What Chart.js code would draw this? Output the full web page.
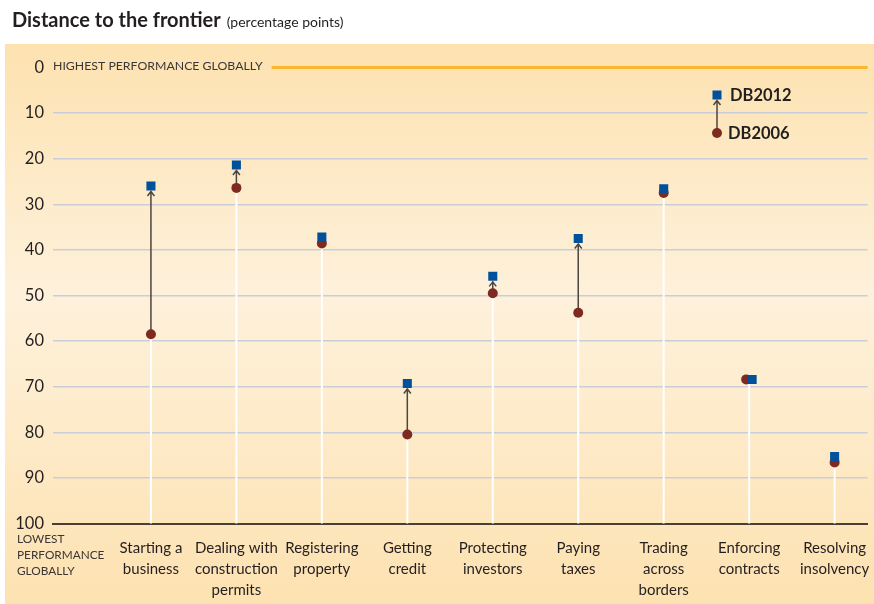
<!DOCTYPE html>
<html>
<head>
<meta charset="utf-8">
<script src="https://cdn.jsdelivr.net/npm/chart.js@4.4.1/dist/chart.umd.min.js"></script>
<style>
  body { margin: 0; background: #fff; }
  #wrap { width: 874px; height: 604px; position: relative; }
</style>
</head>
<body>
<div id="wrap"><canvas id="chart"></canvas></div>
<script>
// categories (multi-line labels) and the two survey years
const categories = [
  ['Starting a', 'business'],
  ['Dealing with', 'construction', 'permits'],
  ['Registering', 'property'],
  ['Getting', 'credit'],
  ['Protecting', 'investors'],
  ['Paying', 'taxes'],
  ['Trading', 'across', 'borders'],
  ['Enforcing', 'contracts'],
  ['Resolving', 'insolvency']
];
const db2012 = [26.0, 21.4, 37.2, 69.3, 45.8, 37.5, 26.6, 68.4, 85.3];
const db2006 = [58.5, 26.4, 38.6, 80.5, 49.5, 53.8, 27.5, 68.4, 86.6];
const yTicks = [0, 10, 20, 30, 40, 50, 60, 70, 80, 90, 100];

const FONT = 'Lato, "Liberation Sans", sans-serif';
const SQUARE = '#00509b';
const CIRCLE = '#7e2a20';

// nudge the two marks apart when they sit on the same value
function xPos(i, dir) {
  return Math.abs(db2012[i] - db2006[i]) < 0.5 ? i + 1 + dir * 0.035 : i + 1;
}

const decor = {
  id: 'decor',
  beforeDraw(chart) {
    const { ctx } = chart;
    ctx.save();
    ctx.fillStyle = '#fff';
    ctx.fillRect(0, 0, chart.width, chart.height);
    const g = ctx.createLinearGradient(0, 44, 0, chart.height);
    g.addColorStop(0, '#fde2b0');
    g.addColorStop(0.45, '#fef1db');
    g.addColorStop(1, '#fde2b1');
    ctx.fillStyle = g;
    ctx.fillRect(5, 44, chart.width - 5, chart.height - 44);

    ctx.fillStyle = '#231f20';
    ctx.textBaseline = 'alphabetic';
    ctx.font = 'bold 20px ' + FONT;
    ctx.fillText('Distance to the frontier', 12, 27);
    const w = ctx.measureText('Distance to the frontier').width;
    ctx.font = '14px ' + FONT;
    ctx.fillText('(percentage points)', 12 + w + 6, 27);
    ctx.restore();
  },
  beforeDatasetsDraw(chart) {
    const { ctx, chartArea } = chart;
    const x = chart.scales.x, y = chart.scales.y;
    ctx.save();
    // white drop lines from the lower mark to the axis
    ctx.strokeStyle = '#ffffff';
    ctx.lineWidth = 2;
    categories.forEach((c, i) => {
      const px = x.getPixelForValue(i + 1);
      const top = y.getPixelForValue(Math.max(db2012[i], db2006[i]));
      ctx.beginPath();
      ctx.moveTo(px, top);
      ctx.lineTo(px, y.getPixelForValue(100));
      ctx.stroke();
    });
    // arrows from DB2006 to DB2012
    ctx.strokeStyle = '#4d4542';
    ctx.lineWidth = 1.5;
    categories.forEach((c, i) => {
      const px = x.getPixelForValue(i + 1);
      const y0 = y.getPixelForValue(db2006[i]);
      const y1 = y.getPixelForValue(db2012[i]) + 5;
      if (y0 - y1 < 6) return;
      ctx.beginPath();
      ctx.moveTo(px, y0);
      ctx.lineTo(px, y1);
      ctx.moveTo(px - 3.5, y1 + 5);
      ctx.lineTo(px, y1 + 0.5);
      ctx.lineTo(px + 3.5, y1 + 5);
      ctx.stroke();
    });
    // top reference line
    const y0 = y.getPixelForValue(0);
    ctx.font = '12.3px ' + FONT;
    ctx.fillStyle = '#3a3636';
    ctx.textBaseline = 'middle';
    ctx.fillText('HIGHEST PERFORMANCE GLOBALLY', 53, y0 - 1);
    const tw = ctx.measureText('HIGHEST PERFORMANCE GLOBALLY').width;
    ctx.strokeStyle = '#fbb62e';
    ctx.lineWidth = 3;
    ctx.beginPath();
    ctx.moveTo(53 + tw + 9, y0);
    ctx.lineTo(chartArea.right, y0);
    ctx.stroke();
    // bottom note
    ctx.font = '11.8px ' + FONT;
    ctx.textBaseline = 'middle';
    ['LOWEST', 'PERFORMANCE', 'GLOBALLY'].forEach((t, k) => {
      ctx.fillText(t, 17, 539 + k * 16);
    });
    ctx.restore();
  },
  afterDraw(chart) {
    const { ctx } = chart;
    ctx.save();
    // legend
    const lx = 717, sy = 95, cy = 133;
    ctx.strokeStyle = '#4d4542';
    ctx.lineWidth = 1.5;
    ctx.beginPath();
    ctx.moveTo(lx, cy);
    ctx.lineTo(lx, sy + 5);
    ctx.moveTo(lx - 3.5, sy + 10);
    ctx.lineTo(lx, sy + 5.5);
    ctx.lineTo(lx + 3.5, sy + 10);
    ctx.stroke();
    ctx.fillStyle = SQUARE;
    ctx.fillRect(lx - 4.5, sy - 4.5, 9, 9);
    ctx.fillStyle = CIRCLE;
    ctx.beginPath();
    ctx.arc(lx, cy, 5, 0, Math.PI * 2);
    ctx.fill();
    ctx.fillStyle = '#231f20';
    ctx.font = 'bold 16.5px ' + FONT;
    ctx.textBaseline = 'middle';
    ctx.fillText('DB2012', 730, sy + 1);
    ctx.fillText('DB2006', 728, cy + 1);
    ctx.restore();
  }
};

new Chart(document.getElementById('chart'), {
  type: 'scatter',
  data: {
    datasets: [
      {
        label: 'DB2012',
        data: db2012.map((v, i) => ({ x: xPos(i, 1), y: v })),
        pointStyle: 'rect',
        pointRadius: 6.4,
        backgroundColor: SQUARE,
        borderWidth: 0
      },
      {
        label: 'DB2006',
        data: db2006.map((v, i) => ({ x: xPos(i, -1), y: v })),
        pointStyle: 'circle',
        pointRadius: 5,
        backgroundColor: CIRCLE,
        borderWidth: 0
      }
    ]
  },
  options: {
    responsive: true,
    maintainAspectRatio: false,
    animation: false,
    layout: { padding: { top: 67.5, right: 6, left: 0, bottom: 0 } },
    plugins: { legend: { display: false }, tooltip: { enabled: false } },
    scales: {
      x: {
        type: 'linear',
        min: -0.146,
        max: 9.386,
        afterBuildTicks: (s) => { s.ticks = categories.map((c, i) => ({ value: i + 1 })); },
        afterFit: (s) => { s.height = 80.5; s.paddingLeft = 0; s.paddingRight = 0; },
        ticks: {
          autoSkip: false,
          maxRotation: 0,
          padding: 14,
          color: '#231f20',
          font: { family: FONT, size: 15, lineHeight: 1.4 },
          callback: (v) => categories[v - 1]
        },
        grid: { display: false, drawTicks: false },
        border: { display: true, color: '#4a3f36', width: 2 }
      },
      y: {
        reverse: true,
        min: 0,
        max: 100,
        afterBuildTicks: (s) => { s.ticks = yTicks.map(v => ({ value: v })); },
        afterFit: (s) => { s.width = 53; s.paddingTop = 0; s.paddingBottom = 0; },
        ticks: {
          padding: 9,
          color: '#231f20',
          font: { family: FONT, size: 16.5 }
        },
        grid: {
          drawTicks: false,
          lineWidth: 1.5,
          color: (c) => (c.tick && (c.tick.value === 0 || c.tick.value === 100)) ? 'rgba(0,0,0,0)' : '#c9cdda'
        },
        border: { display: false }
      }
    }
  },
  plugins: [decor]
});
</script>
</body>
</html>
